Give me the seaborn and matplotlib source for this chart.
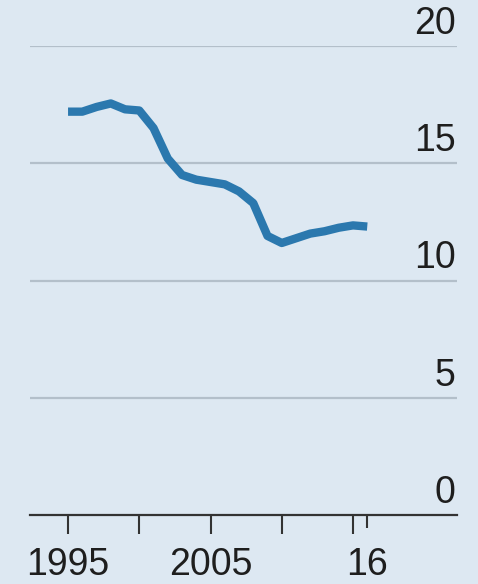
import matplotlib
matplotlib.use("Agg")
import matplotlib.pyplot as plt
import seaborn as sns
import pandas as pd

# Data
years = list(range(1995, 2017))
values = [17.2, 17.2, 17.4, 17.55, 17.3, 17.25, 16.5, 15.2, 14.5, 14.3, 14.2,
          14.1, 13.8, 13.3, 11.9, 11.6, 11.8, 12.0, 12.1, 12.25, 12.35, 12.3]
y_ticks = [0, 5, 10, 15, 20]
x_major = [1995, 2000, 2005, 2010, 2015]
x_labels = {1995: "1995", 2005: "2005", 2016: "16"}

bg = "#dde8f2"
line_color = "#2b78ae"
grid_color = "#b3bfca"

sns.set_theme(style="white")
plt.rcParams["font.family"] = ["Liberation Sans", "DejaVu Sans"]

df = pd.DataFrame({"year": years, "value": values})

fig = plt.figure(figsize=(4.78, 5.84), dpi=100, facecolor=bg)
W, H = 478, 584
ax = fig.add_axes([30 / W, (H - 515) / H, (457 - 30) / W, (515 - 46) / H])
ax.set_facecolor(bg)

sns.lineplot(data=df, x="year", y="value", ax=ax, color=line_color,
             linewidth=6, solid_capstyle="butt", solid_joinstyle="round")

ax.set_xlim(1992.33, 2022.3)
ax.set_ylim(0, 20)

for sp in ["top", "right", "left"]:
    ax.spines[sp].set_visible(False)
ax.spines["bottom"].set_color("#333333")
ax.spines["bottom"].set_linewidth(1.6)

# gridlines with labels sitting above them on the right
for v in y_ticks[1:]:
    ax.axhline(v, color=grid_color, linewidth=1.6, zorder=0)
for v in y_ticks:
    ax.annotate(str(v), xy=(1, v), xycoords=("axes fraction", "data"),
                xytext=(-1, 3), textcoords="offset points",
                ha="right", va="bottom", fontsize=27, color="#1e1e1e")

ax.set_yticks([])
ax.set_xticks(x_major)
ax.set_xticks([2016], minor=True)
ax.set_xticklabels([x_labels.get(y, "") for y in x_major])
ax.tick_params(axis="x", which="major", length=14, width=1.5, color="#333333",
               direction="out", pad=9, labelsize=27, labelcolor="#1e1e1e",
               bottom=True)
ax.tick_params(axis="x", which="minor", length=9.5, width=1.5, color="#333333",
               direction="out", bottom=True)
# "16" label sits under the shorter 2016 tick
ax.set_xticklabels([x_labels[2016]], minor=True)
ax.tick_params(axis="x", which="minor", pad=9 + 4.5, labelsize=27, labelcolor="#1e1e1e")

ax.set_xlabel("")
ax.set_ylabel("")

fig.savefig("out.png", dpi=100, facecolor=bg)
